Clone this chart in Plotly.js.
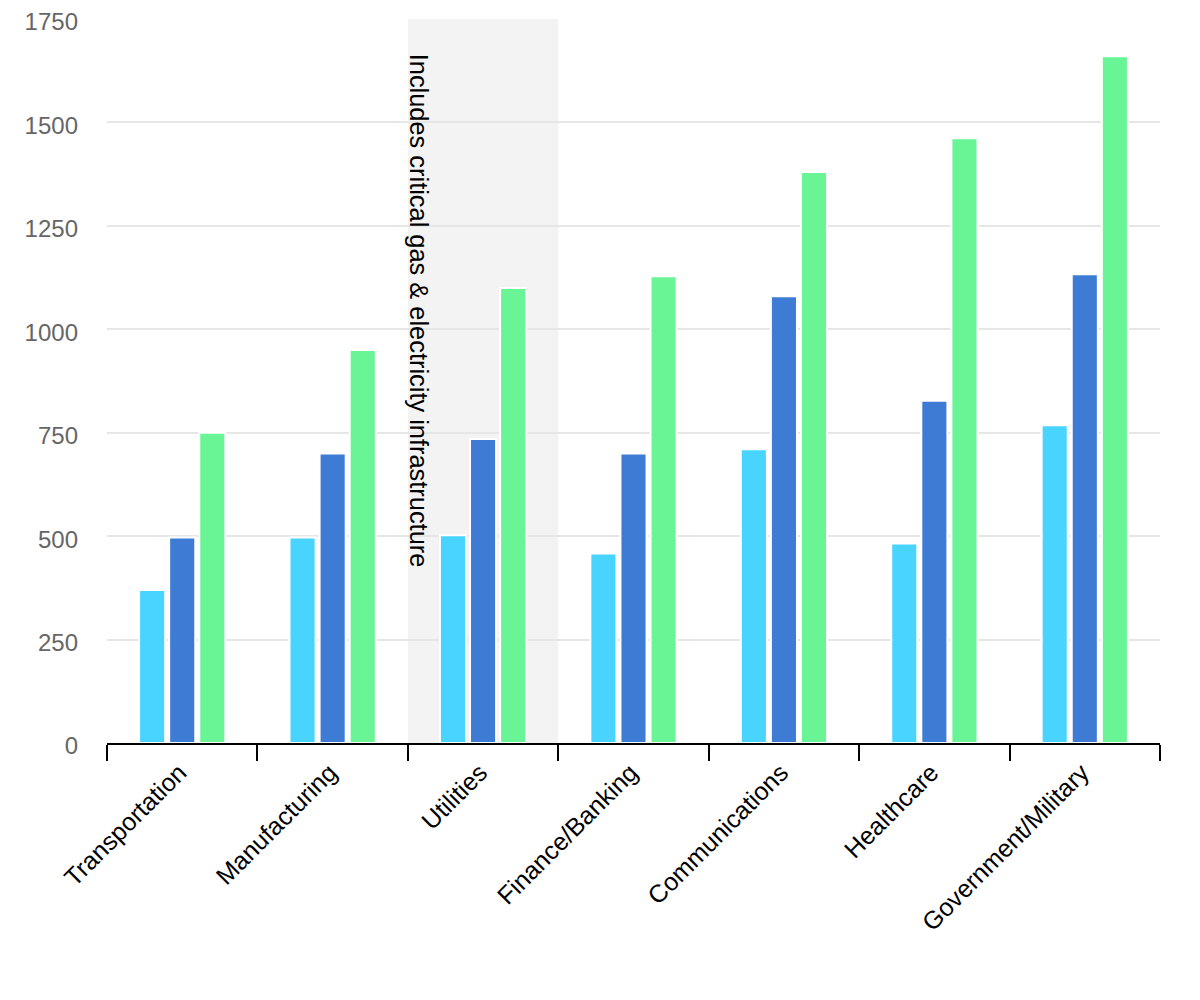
<!DOCTYPE html>
<html>
<head>
<meta charset="utf-8">
<script src="https://cdn.plot.ly/plotly-3.0.1.min.js"></script>
<style>html,body{margin:0;padding:0;background:#fff;}#chart{width:1200px;height:1000px;}</style>
</head>
<body>
<div id="chart"></div>
<script>
const categories = ["Transportation", "Manufacturing", "Utilities", "Finance/Banking", "Communications", "Healthcare", "Government/Military"];
const seriesA = [370, 497, 502, 458, 710, 482, 768];
const seriesB = [497, 700, 735, 700, 1080, 827, 1133];
const seriesC = [750, 950, 1100, 1128, 1380, 1462, 1660];
const colors = ["#48D4FF", "#3D7BD4", "#69F595"];
const yTicks = [0, 250, 500, 750, 1000, 1250, 1500, 1750];
const highlightCategory = "Utilities";
const highlightNote = "Includes critical gas & electricity infrastructure";

const mk = (y, c, name) => ({
  type: "bar", x: categories, y: y, name: name,
  marker: {color: c, line: {color: "#ffffff", width: 2}},
  hoverinfo: "x+y"
});
const data = [mk(seriesA, colors[0], "A"), mk(seriesB, colors[1], "B"), mk(seriesC, colors[2], "C")];
const hi = categories.indexOf(highlightCategory);

const layout = {
  width: 1200, height: 1000,
  margin: {l: 107, r: 40, t: 19, b: 257},
  paper_bgcolor: "#ffffff", plot_bgcolor: "#ffffff",
  font: {family: "Liberation Sans, Arial, sans-serif", size: 24, color: "#000"},
  showlegend: false,
  barmode: "group", bargap: 0.4, bargroupgap: 0.133,
  xaxis: {
    type: "category", tickangle: -45, tickson: "boundaries",
    ticks: "outside", ticklen: 16, tickwidth: 2, tickcolor: "#000",
    showline: true, linecolor: "#000", linewidth: 2,
    showgrid: false, zeroline: false,
    tickfont: {size: 25, color: "#000"}, ticklabelstandoff: 3, ticklabelshift: -3
  },
  yaxis: {
    range: [0, 1750], tickvals: yTicks, ticktext: yTicks.map(String),
    showgrid: true, gridcolor: "#e6e6e6", gridwidth: 2,
    zeroline: false, showline: false, ticks: "",
    tickfont: {size: 24, color: "#666666"}, ticklabelstandoff: 28, ticklabelshift: 3
  },
  shapes: [{
    type: "rect", xref: "x", yref: "paper", x0: hi - 0.5, x1: hi + 0.5, y0: 0, y1: 1,
    fillcolor: "#f3f3f3", line: {width: 0}, layer: "below"
  }],
  annotations: [{
    text: highlightNote, xref: "x", yref: "paper", x: hi - 0.5, y: 0.955,
    xanchor: "left", yanchor: "top", textangle: 90, showarrow: false, xshift: -4,
    font: {size: 25.4, color: "#000"}
  }]
};
Plotly.newPlot("chart", data, layout, {displayModeBar: false, staticPlot: true});
</script>
</body>
</html>
